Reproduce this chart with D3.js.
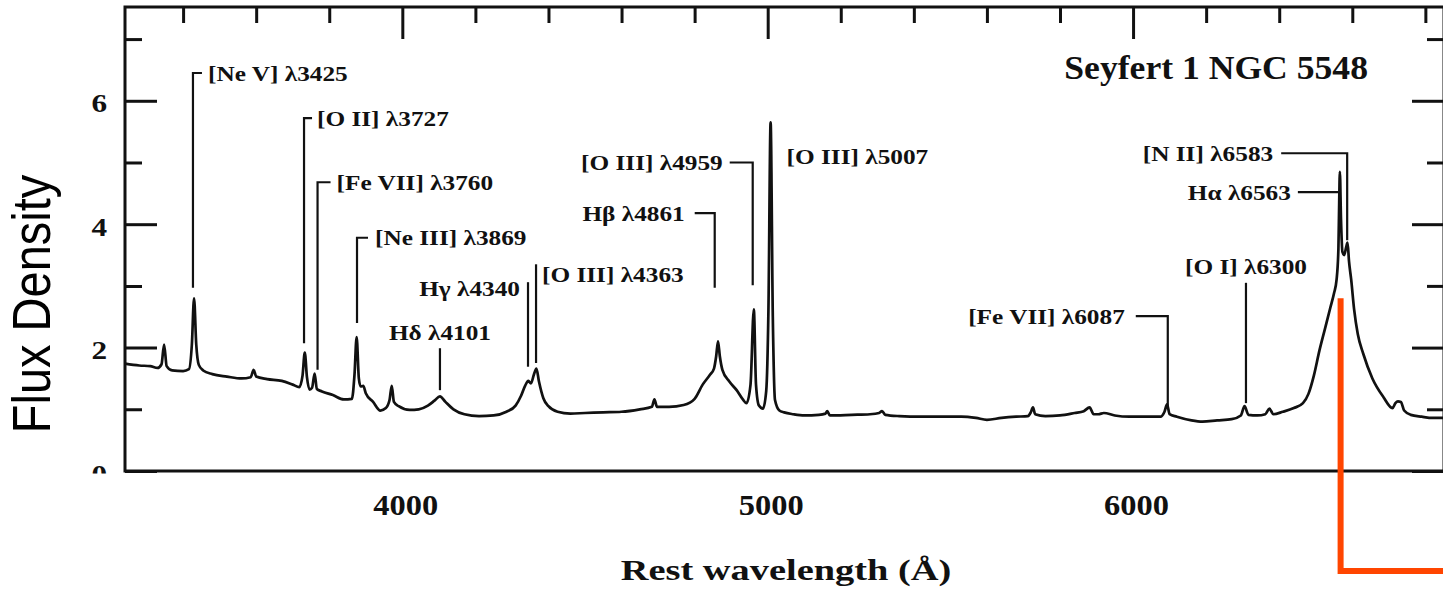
<!DOCTYPE html>
<meta charset="utf-8">
<head>
    <title>Seyfert 1 NGC 5548</title>
    <style>
        body { margin: 0; background: #fff; }
        svg { display: block; }
    </style>
</head>
<body>
<script src="https://d3js.org/d3.v7.min.js"></script>
<svg id="spectrum" width="1443" height="592"></svg>

<script>
    // spectrum: rest wavelength (A) and flux density
    var wavelength = [
        3241, 3280, 3310, 3330, 3341, 3348, 3355, 3370, 3400, 3416,
        3424, 3430, 3436, 3443, 3455, 3480, 3520, 3560, 3585, 3593,
        3600, 3630, 3670, 3700, 3718, 3727, 3733, 3739, 3746, 3753,
        3760, 3766, 3780, 3810, 3840, 3862, 3869, 3875, 3881, 3886,
        3893, 3900, 3920, 3940, 3955, 3965, 3971, 3977, 3990, 4020,
        4045, 4070, 4088, 4103, 4118, 4140, 4170, 4210, 4250, 4285,
        4310, 4325, 4336, 4345, 4352, 4360, 4367, 4374, 4386, 4400,
        4425, 4460, 4500, 4550, 4600, 4650, 4683, 4690, 4697, 4730,
        4770, 4800, 4822, 4842, 4853, 4859, 4864, 4869, 4876, 4895,
        4915, 4932, 4942, 4953, 4962, 4968, 4976, 4987, 4996, 5002,
        5008, 5014, 5020, 5032, 5045, 5070, 5100, 5140, 5158, 5163,
        5170, 5230, 5280, 5305, 5313, 5322, 5360, 5420, 5480, 5530,
        5570, 5600, 5640, 5680, 5712, 5720, 5726, 5732, 5760, 5800,
        5840, 5865, 5881, 5892, 5905, 5920, 5950, 5990, 6040, 6075,
        6086, 6093, 6100, 6120, 6160, 6190, 6230, 6270, 6295, 6305,
        6316, 6340, 6362, 6373, 6384, 6410, 6440, 6465, 6480, 6495,
        6510, 6525, 6540, 6550, 6557, 6562, 6564, 6566, 6569, 6573,
        6578, 6583, 6587, 6591, 6597, 6605, 6615, 6630, 6655, 6685,
        6710, 6718, 6725, 6733, 6742, 6760, 6790, 6820, 6851
    ];
    var flux = [
        1.74, 1.71, 1.70, 1.67, 1.73, 2.05, 1.70, 1.63, 1.62, 1.65,
        2.05, 2.80, 2.05, 1.72, 1.63, 1.57, 1.53, 1.50, 1.52, 1.64,
        1.53, 1.49, 1.46, 1.40, 1.36, 1.55, 1.92, 1.52, 1.32, 1.35,
        1.58, 1.33, 1.29, 1.23, 1.16, 1.17, 1.55, 2.17, 1.50, 1.37,
        1.38, 1.26, 1.12, 0.98, 1.02, 1.15, 1.38, 1.12, 1.05, 0.99,
        1.00, 1.06, 1.14, 1.21, 1.12, 1.00, 0.92, 0.89, 0.90, 0.96,
        1.06, 1.22, 1.38, 1.46, 1.42, 1.56, 1.66, 1.45, 1.18, 1.05,
        0.96, 0.93, 0.94, 0.95, 0.96, 1.00, 1.04, 1.16, 1.04, 1.04,
        1.07, 1.17, 1.40, 1.56, 1.66, 1.86, 2.10, 1.86, 1.64, 1.45,
        1.31, 1.16, 1.10, 1.40, 2.62, 1.40, 1.06, 1.01, 1.30, 2.60,
        5.65, 2.50, 1.15, 0.98, 0.95, 0.92, 0.90, 0.91, 0.93, 0.97,
        0.90, 0.91, 0.92, 0.94, 0.97, 0.91, 0.89, 0.88, 0.88, 0.88,
        0.86, 0.83, 0.86, 0.88, 0.89, 0.95, 1.03, 0.92, 0.89, 0.90,
        0.94, 0.97, 1.03, 0.92, 0.92, 0.94, 0.90, 0.88, 0.88, 0.88,
        0.96, 1.08, 0.92, 0.88, 0.82, 0.80, 0.82, 0.84, 0.90, 1.05,
        0.91, 0.90, 0.92, 1.01, 0.92, 0.96, 1.02, 1.10, 1.25, 1.55,
        1.95, 2.30, 2.65, 2.88, 3.10, 3.60, 4.30, 4.85, 4.10, 3.55,
        3.50, 3.62, 3.70, 3.40, 3.10, 2.62, 2.22, 1.90, 1.50, 1.20,
        1.02, 1.10, 1.13, 1.12, 0.98, 0.91, 0.88, 0.86, 0.86
    ];

    var xTicks = [4000, 5000, 6000];
    var xMinorTicks = [3400, 3600, 3800, 4200, 4400, 4600, 4800, 5200, 5400, 5600, 5800, 6200, 6400, 6600, 6800];
    var yTicks = [0, 2, 4, 6];
    var yMinorTicks = [1, 3, 5, 7];

    var lineLabels = [
        "[Ne V] λ3425", "[O II] λ3727", "[Fe VII] λ3760", "[Ne III] λ3869",
        "Hδ λ4101", "Hγ λ4340", "[O III] λ4363", "Hβ λ4861",
        "[O III] λ4959", "[O III] λ5007", "[Fe VII] λ6087", "[O I] λ6300",
        "Hα λ6563", "[N II] λ6583"
    ];

    var title = "Seyfert 1 NGC 5548";
    var xTitle = "Rest wavelength (Å)";
    var yTitle = "Flux Density";

    // leader layout, one per label: where the line meets the spectrum (w, bot)
    // and the level of the label (top); hook / dx / dy in pixels
    var leaders = [
        {w: 3427, top: 6.45, bot: 2.97, hook: 9,   anchor: "start",  dx: 15,  dy: 0},
        {w: 3731, top: 5.72, bot: 2.07, hook: 8,   anchor: "start",  dx: 13,  dy: 0},
        {w: 3768, top: 4.68, bot: 1.64, hook: 13,  anchor: "start",  dx: 19,  dy: 0},
        {w: 3876, top: 3.78, bot: 2.40, hook: 11,  anchor: "start",  dx: 18,  dy: 0},
        {w: 4103, top: 1.99, bot: 1.31, hook: 0,   anchor: "middle", dx: 0,   dy: -16},
        {w: 4344, top: 3.06, bot: 1.69, hook: 0,   anchor: "end",    dx: -8,  dy: 6},
        {w: 4366, top: 3.35, bot: 1.75, hook: 0,   anchor: "start",  dx: 6,   dy: 10},
        {w: 4855, top: 4.18, bot: 2.97, hook: -20, anchor: "end",    dx: -30, dy: 0},
        {w: 4959, top: 5.00, bot: 3.01, hook: -23, anchor: "end",    dx: -30, dy: 0},
        {w: 5008, top: 5.09, bot: null, hook: 0,   anchor: "start",  dx: 16,  dy: 0},
        {w: 6095, top: 2.51, bot: 1.02, hook: -32, anchor: "end",    dx: -43, dy: 0},
        {w: 6309, top: 3.05, bot: 1.10, hook: 0,   anchor: "middle", dx: 0,   dy: -16},
        {w: 6566, top: 4.52, bot: 4.52, hook: -42, anchor: "end",    dx: -49, dy: 0},
        {w: 6586, top: 5.15, bot: 3.74, hook: -66, anchor: "end",    dx: -74, dy: 0}
    ];

    // the red marker at H alpha
    var marker = {w: 6568, f: 2.80};

    var serif = "'Liberation Serif', 'Times New Roman', Times, serif";

    var svg = d3.select("#spectrum"),
        width = +svg.attr("width"),
        height = +svg.attr("height");

    var frame = {left: 125, right: 1444, top: 7, bottom: 471};

    var x = d3.scaleLinear().domain([3241, 6851]).range([frame.left, frame.right]);
    var y = d3.scaleLinear().domain([0, 7.52]).range([frame.bottom, frame.top]);

    var points = wavelength.map(function (w, i) { return [w, flux[i]]; });

    svg.append("defs").append("clipPath")
        .attr("id", "yclip")
        .append("rect")
        .attr("x", -frame.left).attr("y", -10)
        .attr("width", 300).attr("height", 483.5);

    function styleTicks(g) {
        g.select(".domain").remove();
        g.selectAll(".tick line").attr("stroke", "#111").attr("stroke-width", 3);
    }

    // left axis, labels outside, ticks inside
    var leftAxis = svg.append("g")
        .attr("transform", "translate(" + frame.left + ",0)")
        .attr("clip-path", "url(#yclip)");
    leftAxis.append("g")
        .call(d3.axisLeft(y).tickValues(yTicks).tickSizeInner(-32).tickSizeOuter(0).tickPadding(18))
        .call(styleTicks);
    leftAxis.append("g")
        .call(d3.axisLeft(y).tickValues(yMinorTicks).tickSizeInner(-17).tickSizeOuter(0).tickFormat(""))
        .call(styleTicks);
    leftAxis.selectAll("text")
        .attr("x", null)
        .attr("transform", "translate(-18,3) scale(1.25,1)")
        .attr("fill", "#111")
        .style("font-family", serif)
        .style("font-weight", "bold")
        .style("font-size", "25px");

    // right axis
    var rightAxis = svg.append("g").attr("transform", "translate(" + frame.right + ",0)");
    rightAxis.append("g")
        .call(d3.axisRight(y).tickValues(yTicks).tickSizeInner(-32).tickSizeOuter(0).tickFormat(""))
        .call(styleTicks);
    rightAxis.append("g")
        .call(d3.axisRight(y).tickValues(yMinorTicks).tickSizeInner(-17).tickSizeOuter(0).tickFormat(""))
        .call(styleTicks);

    // top axis
    var topAxis = svg.append("g").attr("transform", "translate(0," + frame.top + ")");
    topAxis.append("g")
        .call(d3.axisTop(x).tickValues(xTicks).tickSizeInner(-32).tickSizeOuter(0).tickFormat(""))
        .call(styleTicks);
    topAxis.append("g")
        .call(d3.axisTop(x).tickValues(xMinorTicks).tickSizeInner(-16).tickSizeOuter(0).tickFormat(""))
        .call(styleTicks);

    // bottom axis: labels only
    var bottomAxis = svg.append("g")
        .attr("transform", "translate(0," + frame.bottom + ")")
        .call(d3.axisBottom(x).tickValues(xTicks).tickSize(0).tickFormat(d3.format("d")))
        .call(styleTicks);
    bottomAxis.selectAll("text")
        .attr("y", null)
        .attr("dy", null)
        .attr("transform", "translate(3,44) scale(1.12,1)")
        .attr("fill", "#111")
        .style("font-family", serif)
        .style("font-weight", "bold")
        .style("font-size", "29px");

    // frame
    svg.append("rect")
        .attr("x", frame.left)
        .attr("y", frame.top)
        .attr("width", frame.right - frame.left)
        .attr("height", frame.bottom - frame.top)
        .attr("fill", "none")
        .attr("stroke", "#111")
        .attr("stroke-width", 3);

    // spectrum
    var line = d3.line()
        .curve(d3.curveMonotoneX)
        .x(function (d) { return x(d[0]); })
        .y(function (d) { return y(d[1]); });

    svg.append("path")
        .datum(points)
        .attr("d", line)
        .attr("fill", "none")
        .attr("stroke", "#111")
        .attr("stroke-width", 2.7)
        .attr("stroke-linejoin", "round");

    // line identifications
    var ids = svg.append("g");
    leaders.forEach(function (l, i) {
        var lx = x(l.w), ty = y(l.top);
        if (l.bot !== null) {
            var d = "M" + lx + "," + y(l.bot) + "V" + ty;
            if (l.hook) d += "H" + (lx + l.hook);
            ids.append("path")
                .attr("d", d)
                .attr("fill", "none")
                .attr("stroke", "#111")
                .attr("stroke-width", 2.2);
        }
        ids.append("text")
            .attr("transform", "translate(" + (lx + l.dx) + "," + (ty + l.dy) + ") scale(1.15,1)")
            .attr("dy", "0.34em")
            .attr("text-anchor", l.anchor)
            .attr("fill", "#111")
            .style("font-family", serif)
            .style("font-weight", "bold")
            .style("font-size", "22px")
            .text(lineLabels[i]);
    });

    // title
    svg.append("text")
        .attr("transform", "translate(1368,79) scale(1.08,1)")
        .attr("text-anchor", "end")
        .attr("fill", "#111")
        .style("font-family", serif)
        .style("font-weight", "bold")
        .style("font-size", "33px")
        .text(title);

    // axis titles
    svg.append("text")
        .attr("transform", "translate(786,580) scale(1.28,1)")
        .attr("text-anchor", "middle")
        .attr("fill", "#111")
        .style("font-family", serif)
        .style("font-weight", "bold")
        .style("font-size", "30px")
        .text(xTitle);

    svg.append("text")
        .attr("transform", "translate(50,304) scale(1.15,1) rotate(-90)")
        .attr("text-anchor", "middle")
        .attr("fill", "#000")
        .style("font-family", "'Liberation Sans', Arial, sans-serif")
        .style("font-size", "47px")
        .text(yTitle);

    // red marker from the H alpha wing down and off to the right
    var mx = x(marker.w);
    svg.append("path")
        .attr("d", "M" + mx + "," + y(marker.f) + "V571H" + (width + 10))
        .attr("fill", "none")
        .attr("stroke", "#ff4500")
        .attr("stroke-width", 6)
        .attr("stroke-linejoin", "miter");
</script>

</body>
